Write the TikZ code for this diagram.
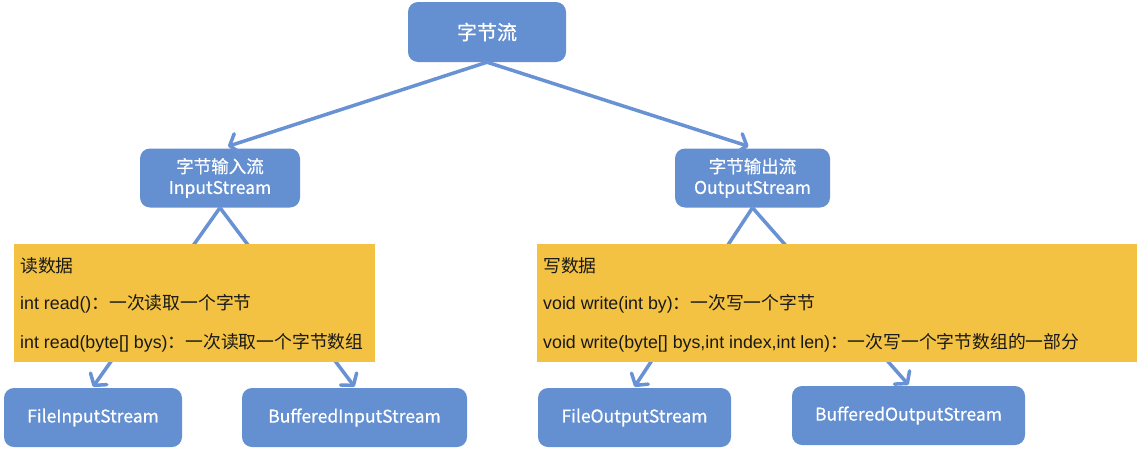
\documentclass[tikz,border=0pt]{standalone}
\usepackage{fontspec}
\setmainfont{Liberation Sans}
\newfontfamily\cjk{Noto Sans CJK SC}
\newfontfamily\cjkn[FakeBold=0.6]{Noto Sans CJK SC}
\usetikzlibrary{arrows.meta}
\definecolor{nodeblue}{RGB}{100,143,208}
\definecolor{arrowblue}{RGB}{104,146,212}
\definecolor{boxyellow}{RGB}{243,194,66}
\begin{document}
\begin{tikzpicture}[x=1pt,y=-1pt,
  bluebox/.style={fill=nodeblue, rounded corners=10pt, text=white, font=\cjkn\fontsize{17.5}{21}\selectfont, align=center, inner sep=0pt},
  conn/.style={draw=arrowblue, line width=3.5pt, -{Straight Barb[length=8pt,width=20pt,round]}},
  yellowbox/.style={fill=boxyellow, inner sep=0pt, anchor=north west},
  txt/.style={anchor=west, inner sep=0pt, text=black!90, font=\fontsize{17.8}{20}\selectfont}
]
\useasboundingbox[fill=white] (0,0) rectangle (1140,450);
% blue nodes
\node[bluebox, minimum width=158pt, minimum height=60pt, font=\cjkn\fontsize{20}{22}\selectfont] (root) at (487,32) {字节流};
\node[bluebox, minimum width=160pt, minimum height=59pt] (in) at (220,178) {字节输入流\\InputStream};
\node[bluebox, minimum width=155pt, minimum height=59pt] (out) at (752.5,178) {字节输出流\\OutputStream};
\node[bluebox, minimum width=178pt, minimum height=59pt] (fis) at (93,417.5) {FileInputStream};
\node[bluebox, minimum width=225pt, minimum height=59pt] (bis) at (354.5,417.5) {BufferedInputStream};
\node[bluebox, minimum width=193pt, minimum height=59pt] (fos) at (634.5,417.5) {FileOutputStream};
\node[bluebox, minimum width=233pt, minimum height=59pt] (bos) at (908.5,415.5) {BufferedOutputStream};
% connectors
\draw[conn] (root.south) -- ([xshift=8pt,yshift=2pt]in.north);
\draw[conn] (root.south) -- ([xshift=-4pt,yshift=2pt]out.north);
\draw[conn] (in.south) -- ([yshift=1pt]fis.north);
\draw[conn] (in.south) -- ([yshift=1pt]bis.north);
\draw[conn] (out.south) -- ([yshift=1pt]fos.north);
\draw[conn] (out.south) -- ([yshift=1pt]bos.north);
% yellow boxes
\node[yellowbox, minimum width=361pt, minimum height=118pt] (rbox) at (14,244) {};
\node[yellowbox, minimum width=600pt, minimum height=118pt] (wbox) at (537,244) {};
\node[txt] (r1) at (20,266) {\cjk 读数据};
\node[txt] (r2) at (20,304) {int read()\cjk：一次读取一个字节};
\node[txt] (r3) at (20,343) {int read(byte[] bys)\cjk：一次读取一个字节数组};
\node[txt] (w1) at (543,266) {\cjk 写数据};
\node[txt] (w2) at (543,304) {void write(int by)\cjk：一次写一个字节};
\node[txt] (w3) at (543,343) {void write(byte[] bys,int index,int len)\cjk：一次写一个字节数组的一部分};
\end{tikzpicture}
\end{document}
